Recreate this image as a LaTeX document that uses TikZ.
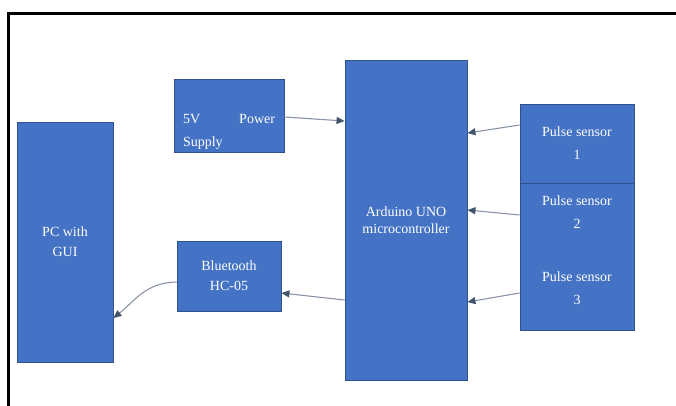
\documentclass[tikz,border=0pt]{standalone}
\usepackage{fontspec}
\setmainfont{Liberation Serif}
\usetikzlibrary{arrows.meta}
\definecolor{boxfill}{HTML}{4472C4}
\definecolor{boxline}{HTML}{2F528F}
\definecolor{arrline}{HTML}{8A94A8}
\definecolor{arrhead}{HTML}{44546A}
\tikzset{
  blk/.style={draw=boxline, fill=boxfill, line width=0.9pt, text=white,
    align=center, inner sep=2pt, font=\fontsize{14}{20}\selectfont},
  txt/.style={text=white, align=center, inner sep=1pt, font=\fontsize{14}{23}\selectfont},
  conn/.style={draw=arrline, line width=1.1pt,
    -{Triangle[length=8pt,width=7pt,fill=arrhead,color=arrhead]}},
  frame/.style={line width=3pt, draw=black}
}
\begin{document}
\begin{tikzpicture}[x=1pt,y=-1pt]
\useasboundingbox (0,0) rectangle (676,406);
% frame
\coordinate (f1) at (8,406);
\coordinate (f2) at (8,14);
\coordinate (f3) at (676,14);
\draw[frame] (f1) -- (f2) -- (f3);
% boxes
\node[blk, minimum width=96pt, minimum height=240pt] (pc) at (65,242) {PC with\\GUI};
\node[blk, minimum width=110pt, minimum height=73pt] (ps) at (229,115.5) {};
\node[txt, text width=92pt, align=justify] (pst) at (229,132) {5V\hfill Power\\Supply};
\node[blk, minimum width=104pt, minimum height=70pt] (bt) at (229,276) {Bluetooth\\HC-05};
\node[blk, minimum width=122pt, minimum height=320pt, font=\fontsize{14}{17}\selectfont] (ard) at (406,220) {Arduino UNO\\microcontroller};
\node[blk, minimum width=114pt, minimum height=79pt, font=\fontsize{14}{23}\selectfont] (s1) at (577,143.5) {Pulse sensor\\1};
% sensors 2 and 3 share one outline
\fill[boxfill] (520.5,184) rectangle (633.5,329.5);
\draw[boxline, line width=0.9pt] (520,183) -- (520,330) -- (634,330) -- (634,183);
\node[txt] (s2) at (577,212) {Pulse sensor\\2};
\node[txt] (s3) at (577,288) {Pulse sensor\\3};
% connectors
\draw[conn] (ps.east |- 0,117) -- (ard.west |- 0,121);
\draw[conn] (s1.west |- 0,125) -- (ard.east |- 0,133);
\draw[conn] (s1.west |- 0,215) -- (ard.east |- 0,210);
\draw[conn] (s1.west |- 0,293) -- (ard.east |- 0,302);
\draw[conn] (ard.west |- 0,300) -- (bt.east |- 0,293);
\draw[conn] (bt.west |- 0,282) .. controls (145,283) and (136,300) .. (pc.east |- 0,318);
\end{tikzpicture}
\end{document}
